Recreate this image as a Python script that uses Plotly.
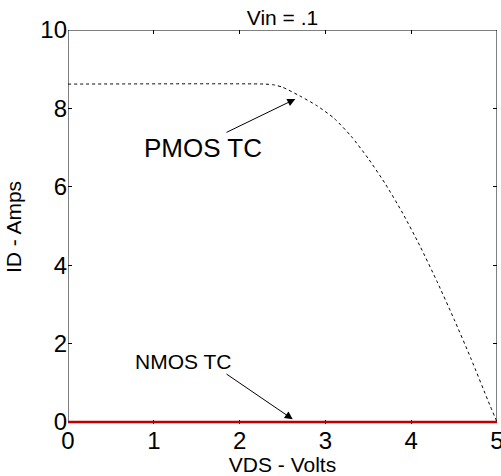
import plotly.graph_objects as go

# PMOS transfer characteristic
vds_pmos = [0, 2.3, 2.4, 2.5, 2.7, 2.9, 3.1, 3.3, 3.5, 3.7, 3.9, 4.1, 4.3, 4.5, 4.7, 4.9, 5.0]
id_pmos = [8.62, 8.62, 8.60, 8.54, 8.32, 8.07, 7.75, 7.29, 6.72, 6.07, 5.33, 4.50, 3.59, 2.62, 1.60, 0.52, 0.0]

# NMOS transfer characteristic
vds_nmos = [0, 1, 2, 3, 4, 5]
id_nmos = [0, 0, 0, 0, 0, 0]

x_ticks = [0, 1, 2, 3, 4, 5]
y_ticks = [0, 2, 4, 6, 8, 10]

FONT = "Arial, Liberation Sans, sans-serif"

fig = go.Figure()
fig.add_trace(go.Scatter(x=vds_pmos, y=id_pmos, mode="lines",
                         line=dict(color="black", width=1, dash="dot", shape="spline", smoothing=0.6),
                         showlegend=False, hoverinfo="skip"))
fig.add_trace(go.Scatter(x=vds_nmos, y=id_nmos, mode="lines",
                         line=dict(color="#c00000", width=2.5),
                         showlegend=False, hoverinfo="skip"))

axis_common = dict(showgrid=False, zeroline=False, showline=False,
                   mirror="ticks", ticks="inside", ticklen=4,
                   tickcolor="black", tickwidth=1, ticklabeloverflow="allow",
                   automargin=False, layer="below traces",
                   tickfont=dict(family=FONT, size=24, color="black"))

fig.update_xaxes(range=[0, 5], tickvals=x_ticks, ticktext=[str(v) for v in x_ticks],
                 title=dict(text="VDS - Volts", font=dict(family=FONT, size=21, color="black"), standoff=0),
                 **axis_common)
# a small pad below zero keeps the thick NMOS line from being clipped
fig.update_yaxes(range=[-0.05, 10], tickvals=y_ticks, ticktext=[str(v) for v in y_ticks],
                 title=dict(text="ID - Amps", font=dict(family=FONT, size=21, color="black"), standoff=12),
                 **axis_common)

# axes box, drawn beneath the traces so the red line covers its bottom edge
fig.add_shape(type="rect", xref="x", yref="y", x0=0, x1=5, y0=0, y1=10,
              line=dict(color="black", width=1), fillcolor="rgba(0,0,0,0)", layer="below")

fig.add_annotation(x=2.65, y=8.24, ax=1.83, ay=7.37, xref="x", yref="y", axref="x", ayref="y",
                   text="", showarrow=True, arrowhead=2, arrowsize=1.6, arrowwidth=1, arrowcolor="black")
fig.add_annotation(x=2.62, y=0.07, ax=1.83, ay=1.25, xref="x", yref="y", axref="x", ayref="y",
                   text="", showarrow=True, arrowhead=2, arrowsize=1.6, arrowwidth=1, arrowcolor="black")
fig.add_annotation(x=1.57, y=7.0, xref="x", yref="y", text="PMOS TC", showarrow=False,
                   font=dict(family=FONT, size=26, color="black"))
fig.add_annotation(x=1.34, y=1.55, xref="x", yref="y", text="NMOS TC", showarrow=False,
                   font=dict(family=FONT, size=21, color="black"))

fig.update_layout(
    width=501, height=476,
    margin=dict(l=68, r=4, t=30, b=52, autoexpand=False),
    paper_bgcolor="white", plot_bgcolor="white",
    title=dict(text="Vin = .1", x=0.5, xanchor="center", xref="paper",
               y=1 - 18 / 476, yanchor="middle", yref="container", automargin=False,
               font=dict(family=FONT, size=21, color="black")),
)

fig.write_html(
    "out.html",
    config={"displayModeBar": False},
    post_script=("document.documentElement.style.overflow='hidden';"
                 "document.body.style.margin='0';"
                 "document.body.style.overflow='hidden';"),
)
